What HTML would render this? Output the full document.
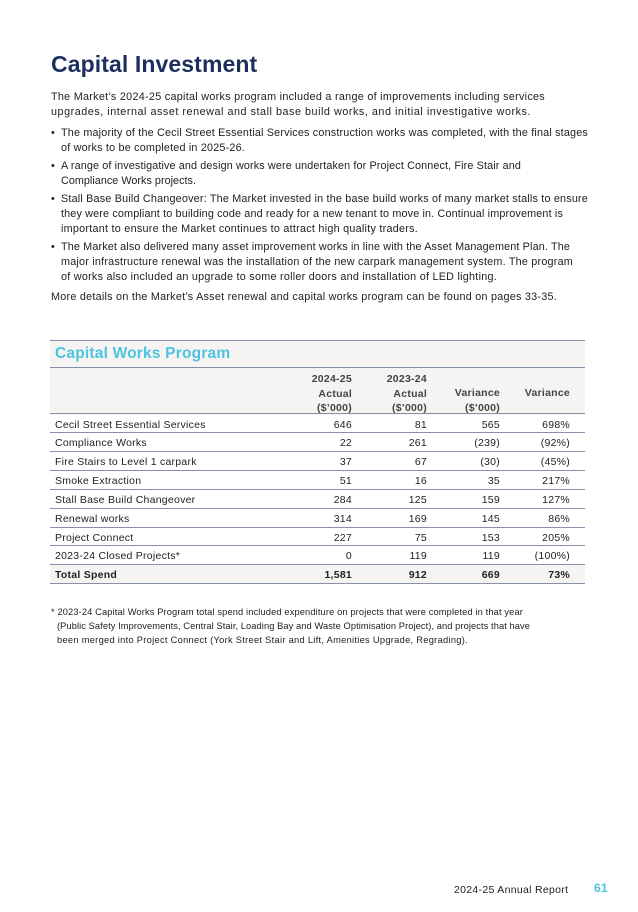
<!DOCTYPE html>
<html><head><meta charset="utf-8"><style>
body{margin:0;width:638px;height:912px;background:#fff;position:relative;font-family:"Liberation Sans",sans-serif;color:#222;overflow:hidden}
.t{position:absolute;white-space:nowrap;font-size:10.8px;line-height:13px;letter-spacing:0.3px}
h1{position:absolute;left:51px;top:51px;margin:0;font-size:23px;color:#1d2f5e;font-weight:bold;letter-spacing:0.1px}
.r{position:absolute;left:50px;width:535px;border-bottom:1.5px solid #8791aa}
.c{position:absolute;font-size:10.5px;white-space:nowrap;text-align:right;letter-spacing:0.25px}
.b{font-weight:bold}
</style></head><body>
<h1>Capital Investment</h1>
<div class="t f" style="left:51px;top:91px">The Market’s 2024-25 capital works program included a range of improvements including services</div>
<div class="t f" style="left:51px;top:106px">upgrades, internal asset renewal and stall base build works, and initial investigative works.</div>
<div class="t" style="left:51px;top:127px">•</div>
<div class="t f" style="left:61px;top:127px">The majority of the Cecil Street Essential Services construction works was completed, with the final stages</div>
<div class="t f" style="left:61px;top:142px">of works to be completed in 2025-26.</div>
<div class="t" style="left:51px;top:160px">•</div>
<div class="t f" style="left:61px;top:160px">A range of investigative and design works were undertaken for Project Connect, Fire Stair and</div>
<div class="t f" style="left:61px;top:175px">Compliance Works projects.</div>
<div class="t" style="left:51px;top:193px">•</div>
<div class="t f" style="left:61px;top:193px">Stall Base Build Changeover: The Market invested in the base build works of many market stalls to ensure</div>
<div class="t f" style="left:61px;top:208px">they were compliant to building code and ready for a new tenant to move in. Continual improvement is</div>
<div class="t f" style="left:61px;top:223px">important to ensure the Market continues to attract high quality traders.</div>
<div class="t" style="left:51px;top:241px">•</div>
<div class="t f" style="left:61px;top:241px">The Market also delivered many asset improvement works in line with the Asset Management Plan. The</div>
<div class="t f" style="left:61px;top:256px">major infrastructure renewal was the installation of the new carpark management system. The program</div>
<div class="t f" style="left:61px;top:271px">of works also included an upgrade to some roller doors and installation of LED lighting.</div>
<div class="t f" style="left:51px;top:291px">More details on the Market’s Asset renewal and capital works program can be found on pages 33-35.</div>

<div style="position:absolute;left:50px;top:340px;width:535px;height:74px;background:#f5f4f2;border-top:1.5px solid #8791aa"></div>
<div style="position:absolute;left:50px;top:565px;width:535px;height:19px;background:#f5f4f2"></div>
<div class="r" style="top:367px"></div>
<div class="t" style="left:55px;top:345px;font-size:15.5px;line-height:18px;color:#4cc3df;font-weight:bold;letter-spacing:0.2px">Capital Works Program</div>
<div class="c b" style="left:290px;width:62px;top:372px;line-height:14.5px;color:#444">2024-25<br>Actual<br>($’000)</div>
<div class="c b" style="left:360px;width:67px;top:372px;line-height:14.5px;color:#444">2023-24<br>Actual<br>($’000)</div>
<div class="c b" style="left:430px;width:70px;top:386px;line-height:14.5px;color:#444">Variance<br>($’000)</div>
<div class="c b" style="left:500px;width:70px;top:386px;line-height:14.5px;color:#444">Variance</div>
<div class="r" style="top:413px"></div>

<div id="rows"></div>
<script>
var d=[["Cecil Street Essential Services","646","81","565","698%"],["Compliance Works","22","261","(239)","(92%)"],["Fire Stairs to Level 1 carpark","37","67","(30)","(45%)"],["Smoke Extraction","51","16","35","217%"],["Stall Base Build Changeover","284","125","159","127%"],["Renewal works","314","169","145","86%"],["Project Connect","227","75","153","205%"],["2023-24 Closed Projects*","0","119","119","(100%)"],["Total Spend","1,581","912","669","73%"]];
var h="",rt=[352,427,500,570];
d.forEach(function(r,i){var y=415+i*18.85;var b=i==8?" b":"";
h+='<div class="c'+b+'" style="left:55px;top:'+(y+3.5)+'px;text-align:left">'+r[0]+'</div>';
for(var j=0;j<4;j++)h+='<div class="c'+b+'" style="left:'+(rt[j]-80)+'px;width:80px;top:'+(y+3.5)+'px">'+r[j+1]+'</div>';
h+='<div class="r" style="top:'+(y+17.3)+'px"></div>';});
document.getElementById("rows").outerHTML=h;
</script>
<div class="t f" style="left:51px;top:606px;font-size:9.3px;line-height:12px;letter-spacing:0.1px">* 2023-24 Capital Works Program total spend included expenditure on projects that were completed in that year</div>
<div class="t f" style="left:57px;top:620px;font-size:9.3px;line-height:12px;letter-spacing:0.1px">(Public Safety Improvements, Central Stair, Loading Bay and Waste Optimisation Project), and projects that have</div>
<div class="t f" style="left:57px;top:634px;font-size:9.3px;line-height:12px;letter-spacing:0.1px">been merged into Project Connect (York Street Stair and Lift, Amenities Upgrade, Regrading).</div>
<div class="t" style="left:454px;top:884px;font-size:10.5px;letter-spacing:0.3px">2024-25 Annual Report</div>
<div class="t" style="left:594px;top:882px;font-size:12px;color:#4cc3df;font-weight:bold">61</div>
<script>
var tg=[545,531,588,245,521,196,588,563,418,570,573,497,557,523,530,468];
var els=document.querySelectorAll(".f");
for(var i=0;i<els.length;i++){var e=els[i];var w=e.getBoundingClientRect().width;var l=parseFloat(e.style.left);var n=e.textContent.length;var ls=parseFloat(getComputedStyle(e).letterSpacing)||0;e.style.letterSpacing=(ls+(tg[i]-l-w)/n)+"px";}
</script>
</body></html>
